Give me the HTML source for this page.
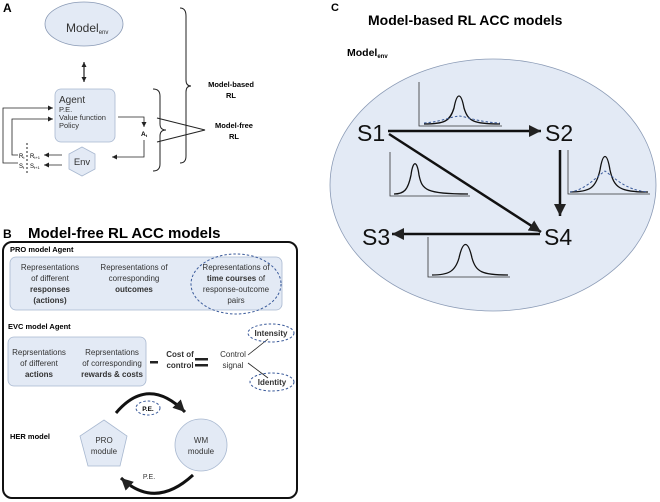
<!DOCTYPE html>
<html><head><meta charset="utf-8"><style>
html,body{margin:0;padding:0;background:#fff;}
svg{display:block;font-family:"Liberation Sans",Arial,sans-serif;}
</style></head><body>
<svg width="660" height="502" viewBox="0 0 660 502" xmlns="http://www.w3.org/2000/svg">
<defs>
<marker id="a" markerWidth="6" markerHeight="6" refX="5" refY="3" orient="auto-start-reverse" markerUnits="userSpaceOnUse"><path d="M0,0.5 L5,3 L0,5.5 z" fill="#222"/></marker>
<marker id="b" markerWidth="14" markerHeight="14" refX="12" refY="6" orient="auto" markerUnits="userSpaceOnUse"><path d="M0,0 L12,6 L0,12 z" fill="#222"/></marker>
</defs>
<!-- Panel A -->
<text x="3" y="12" font-size="12" font-weight="bold">A</text>
<ellipse cx="84" cy="24" rx="39" ry="22" fill="#e3eaf5" stroke="#8a9ab5" stroke-width="0.8"/>
<text x="66" y="32" font-size="12" fill="#333">Model<tspan font-size="6" dy="2">env</tspan></text>
<line x1="84" y1="62" x2="84" y2="82" stroke="#222" stroke-width="1.2" marker-start="url(#a)" marker-end="url(#a)"/>
<rect x="55" y="89" width="60" height="53" rx="6" fill="#e3eaf5" stroke="#a8b8d0" stroke-width="0.8"/>
<text x="59" y="103" font-size="10" fill="#333">Agent</text>
<text x="59" y="112" font-size="7.5" fill="#333">P.E.</text>
<text x="59" y="120" font-size="7.5" fill="#333">Value function</text>
<text x="59" y="128" font-size="7.5" fill="#333">Policy</text>
<polygon points="82,147 95,154 95,169 82,176 69,169 69,154" fill="#e3eaf5" stroke="#a8b8d0" stroke-width="0.8"/>
<text x="82" y="165" font-size="9.5" fill="#333" text-anchor="middle">Env</text>
<polyline points="118,117 144,117 144,127" fill="none" stroke="#222" stroke-width="0.8" marker-end="url(#a)"/>
<text x="141" y="136" font-size="6.5" font-weight="bold">A<tspan font-size="4" dy="1">t</tspan></text>
<polyline points="144,140 144,157 112,157" fill="none" stroke="#222" stroke-width="0.8" marker-end="url(#a)"/>
<line x1="62" y1="155" x2="44" y2="155" stroke="#222" stroke-width="0.8" marker-end="url(#a)"/>
<line x1="62" y1="165" x2="44" y2="165" stroke="#222" stroke-width="0.8" marker-end="url(#a)"/>
<line x1="27" y1="143" x2="27" y2="175" stroke="#222" stroke-width="1" stroke-dasharray="2,2"/>
<text x="19" y="158" font-size="6">R<tspan font-size="4" dy="1">t</tspan></text>
<text x="30" y="158" font-size="6">R<tspan font-size="4" dy="1">t+1</tspan></text>
<text x="19" y="168" font-size="6">S<tspan font-size="4" dy="1">t</tspan></text>
<text x="30" y="168" font-size="6">S<tspan font-size="4" dy="1">t+1</tspan></text>
<polyline points="18,163 3,163 3,108 53,108" fill="none" stroke="#222" stroke-width="0.8" marker-end="url(#a)"/>
<polyline points="18,155 12,155 12,119 53,119" fill="none" stroke="#222" stroke-width="0.8" marker-end="url(#a)"/>
<path d="M153,89 Q160,89 160,96 L160,124 Q160,130 166,130 Q160,130 160,136 L160,164 Q160,171 153,171" fill="none" stroke="#222" stroke-width="1"/>
<path d="M180,8 Q186,8 186,16 L186,80 Q186,86 191,86 Q186,86 186,92 L186,156 Q186,163 180,163" fill="none" stroke="#222" stroke-width="1"/>
<polyline points="157,118 205,130 157,142" fill="none" stroke="#222" stroke-width="1"/>
<text x="231" y="87" font-size="7.5" font-weight="bold" text-anchor="middle">Model-based</text>
<text x="231" y="98" font-size="7.5" font-weight="bold" text-anchor="middle">RL</text>
<text x="234" y="128" font-size="7.5" font-weight="bold" text-anchor="middle">Model-free</text>
<text x="234" y="139" font-size="7.5" font-weight="bold" text-anchor="middle">RL</text>
<!-- Panel B -->
<text x="3" y="238" font-size="12" font-weight="bold">B</text>
<text x="28" y="238" font-size="15" font-weight="bold">Model-free RL ACC models</text>
<rect x="3" y="242" width="294" height="256" rx="9" fill="none" stroke="#111" stroke-width="2"/>
<text x="10" y="252" font-size="7.5" font-weight="bold">PRO model Agent</text>
<rect x="10" y="257" width="272" height="53" rx="6" fill="#e3eaf5" stroke="#a8b8d0" stroke-width="0.8"/>
<g font-size="8" text-anchor="middle" fill="#333">
<text x="50" y="270">Representations</text><text x="50" y="281">of different</text>
<text x="50" y="292" font-weight="bold">responses</text><text x="50" y="303" font-weight="bold">(actions)</text>
<text x="134" y="270">Representations of</text><text x="134" y="281">corresponding</text>
<text x="134" y="292" font-weight="bold">outcomes</text>
<text x="236" y="270">Representations of</text>
<text x="236" y="281"><tspan font-weight="bold">time courses</tspan> of</text>
<text x="236" y="292">response-outcome</text><text x="236" y="303">pairs</text>
</g>
<ellipse cx="236" cy="284" rx="45" ry="30" fill="none" stroke="#3a5a9a" stroke-width="1" stroke-dasharray="2.5,2"/>
<text x="8" y="329" font-size="7.5" font-weight="bold">EVC model Agent</text>
<rect x="8" y="337" width="138" height="49" rx="6" fill="#e3eaf5" stroke="#a8b8d0" stroke-width="0.8"/>
<g font-size="8" text-anchor="middle" fill="#333">
<text x="39" y="355">Reprsentations</text><text x="39" y="366">of different</text><text x="39" y="377" font-weight="bold">actions</text>
<text x="112" y="355">Reprsentations</text><text x="112" y="366">of corresponding</text><text x="112" y="377" font-weight="bold">rewards &amp; costs</text>
<text x="180" y="357" font-weight="bold">Cost of</text><text x="180" y="368" font-weight="bold">control</text>
<text x="233" y="357">Control</text><text x="233" y="368">signal</text>
<text x="271" y="336" font-weight="bold">Intensity</text>
<text x="272" y="385" font-weight="bold">Identity</text>
</g>
<rect x="150" y="361" width="8" height="2.5" fill="#222"/>
<rect x="195" y="358" width="13" height="2.5" fill="#222"/>
<rect x="195" y="364" width="13" height="2.5" fill="#222"/>
<line x1="248" y1="355" x2="268" y2="339" stroke="#222" stroke-width="0.8"/>
<line x1="248" y1="363" x2="268" y2="378" stroke="#222" stroke-width="0.8"/>
<ellipse cx="271" cy="333" rx="23" ry="9" fill="none" stroke="#3a5a9a" stroke-width="1" stroke-dasharray="2.5,2"/>
<ellipse cx="272" cy="382" rx="22" ry="9" fill="none" stroke="#3a5a9a" stroke-width="1" stroke-dasharray="2.5,2"/>
<text x="10" y="439" font-size="7.5" font-weight="bold">HER model</text>
<polygon points="104,420 127,436 120,466 88,466 80,436" fill="#e3eaf5" stroke="#a8b8d0" stroke-width="0.8"/>
<text x="104" y="443" font-size="8" text-anchor="middle" fill="#333">PRO</text>
<text x="104" y="454" font-size="8" text-anchor="middle" fill="#333">module</text>
<circle cx="201" cy="445" r="26" fill="#e3eaf5" stroke="#a8b8d0" stroke-width="0.8"/>
<text x="201" y="443" font-size="8" text-anchor="middle" fill="#333">WM</text>
<text x="201" y="454" font-size="8" text-anchor="middle" fill="#333">module</text>
<path d="M116,413 Q148,375 185,412" fill="none" stroke="#111" stroke-width="3" marker-end="url(#b)"/>
<ellipse cx="148" cy="408" rx="12" ry="7" fill="none" stroke="#3a5a9a" stroke-width="1" stroke-dasharray="2.5,2"/>
<text x="148" y="411" font-size="6.5" font-weight="bold" text-anchor="middle">P.E.</text>
<path d="M193,475 Q155,510 121,478" fill="none" stroke="#111" stroke-width="3" marker-end="url(#b)"/>
<text x="149" y="479" font-size="7" text-anchor="middle" fill="#333">P.E.</text>
<!-- Panel C -->
<text x="331" y="11" font-size="11" font-weight="bold">C</text>
<text x="368" y="25" font-size="14" font-weight="bold">Model-based RL ACC models</text>
<ellipse cx="493" cy="185" rx="163" ry="126" fill="#e3eaf5" stroke="#8a9ab5" stroke-width="0.8"/>
<text x="347" y="56" font-size="10.5" font-weight="bold">Model<tspan font-size="6" dy="2">env</tspan></text>
<g stroke="#333" stroke-width="0.8" fill="none">
<polyline points="419,82 419,126 502,126"/>
<polyline points="390,152 390,196 470,196"/>
<polyline points="568,150 568,194 650,194"/>
<polyline points="428,237 428,277 510,277"/>
</g>
<g stroke="#111" stroke-width="1.3" fill="none">
<path d="M424,124 C445,124 450,121 454,108 C457,92 461,92 464,108 C468,121 473,124 500,124"/>
<path d="M394,194 C404,194 408,190 411,175 C413,160 417,160 419,175 C422,190 426,194 468,194"/>
<path d="M570,192 C590,192 596,188 600,170 C603,152 607,152 610,170 C614,188 620,192 648,192"/>
<path d="M432,275 C448,275 455,272 459,258 C463,240 468,240 472,258 C476,272 482,275 508,275"/>
</g>
<g stroke="#3a5a9a" stroke-width="1" fill="none" stroke-dasharray="2.5,2">
<path d="M424,123 C440,122 450,117 459,116 C468,117 478,122 500,123"/>
<path d="M570,192 C585,190 595,178 605,171 C615,178 625,190 648,192"/>
</g>
<g font-size="23" fill="#111">
<text x="357" y="141">S1</text><text x="545" y="141">S2</text>
<text x="362" y="245">S3</text><text x="544" y="245">S4</text>
</g>
<g stroke="#111" stroke-width="2.5">
<line x1="388" y1="131" x2="541" y2="131" marker-end="url(#b)"/>
<line x1="389" y1="134" x2="541" y2="232" marker-end="url(#b)"/>
<line x1="560" y1="150" x2="560" y2="216" marker-end="url(#b)"/>
<line x1="540" y1="234" x2="392" y2="234" marker-end="url(#b)"/>
</g>
</svg>
</body></html>
